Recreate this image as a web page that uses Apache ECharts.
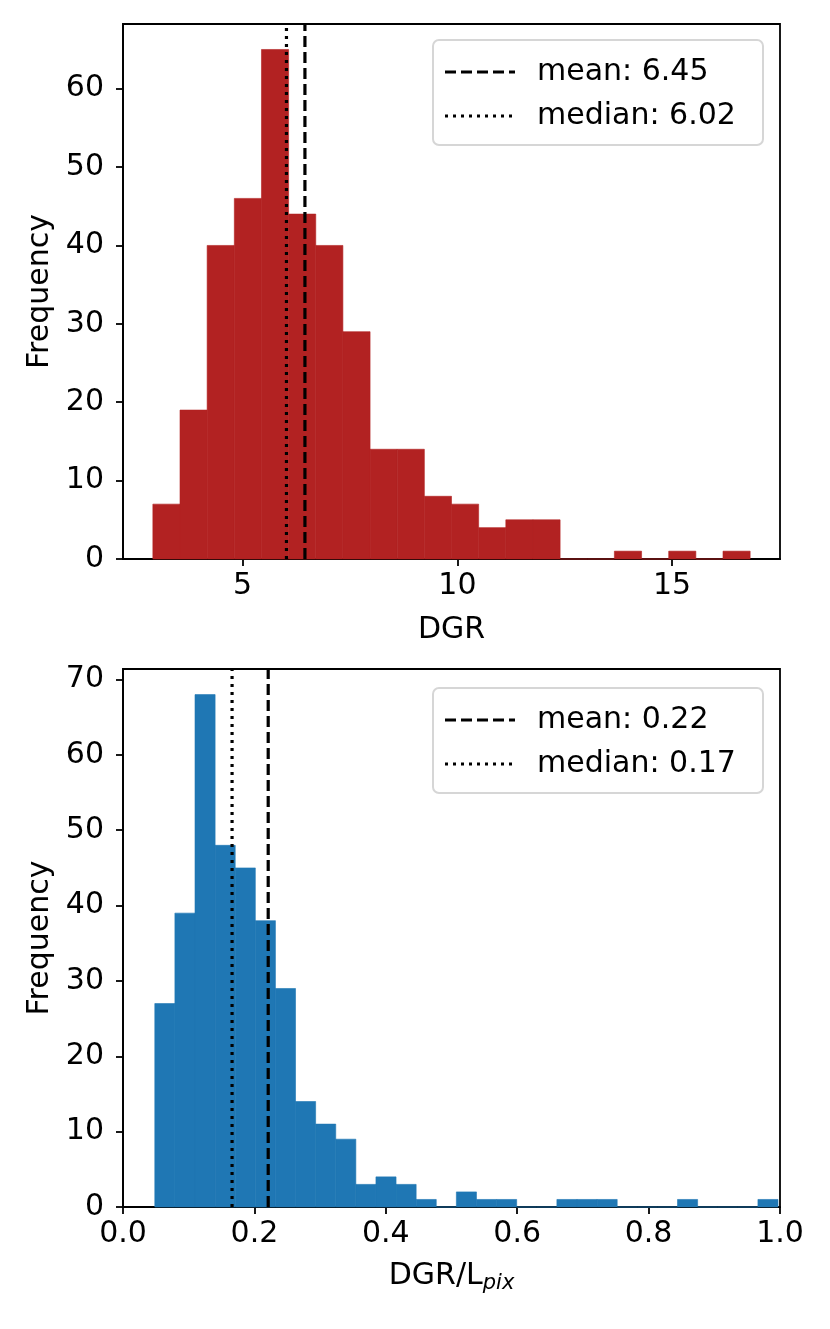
<!DOCTYPE html>
<html>
<head>
    <meta charset="utf-8">
    <title>DGR histograms</title>
    <script src="https://cdn.jsdelivr.net/npm/echarts@6/dist/echarts.min.js"></script>
    <style>
        html, body { margin: 0; padding: 0; background: #ffffff; }
        #chart { width: 830px; height: 1329px; }
    </style>
</head>
<body>
<div id="chart"></div>
<script>
// top panel: DGR histogram (bin edges + counts)
var dgrEdges = [2.909, 3.541, 4.173, 4.806, 5.438, 6.070, 6.702, 7.334, 7.967, 8.599,
    9.231, 9.863, 10.495, 11.128, 11.760, 12.392, 13.024, 13.656, 14.289, 14.921,
    15.553, 16.185, 16.817];
var dgrCounts = [7, 19, 40, 46, 65, 44, 40, 29, 14, 14, 8, 7, 4, 5, 5, 0, 0, 1, 0, 1, 0, 1];
var dgrMean = 6.45;
var dgrMedian = 6.02;
var dgrTicks = [5, 10, 15];

// bottom panel: DGR / L_pix histogram
var ratioEdges = [0.0484, 0.0790, 0.1096, 0.1402, 0.1708, 0.2014, 0.2320, 0.2626, 0.2932,
    0.3238, 0.3544, 0.3850, 0.4156, 0.4462, 0.4768, 0.5074, 0.5380, 0.5686, 0.5992,
    0.6298, 0.6604, 0.6910, 0.7216, 0.7522, 0.7828, 0.8134, 0.8440, 0.8746, 0.9052,
    0.9358, 0.9664, 0.9970];
var ratioCounts = [27, 39, 68, 48, 45, 38, 29, 14, 11, 9, 3, 4, 3, 1, 0, 2, 1, 1, 0, 0,
    1, 1, 1, 0, 0, 0, 1, 0, 0, 0, 1];
var ratioMean = 0.221;
var ratioMedian = 0.166;
var ratioTicks = [0, 0.2, 0.4, 0.6, 0.8, 1.0];

var freqTicks = [0, 10, 20, 30, 40, 50, 60, 70];

var FONT = 'DejaVu Sans';
var FS = 30;

function binsOf(edges, counts) {
    var out = [];
    for (var i = 0; i < counts.length; i++) {
        out.push([edges[i], edges[i + 1], counts[i]]);
    }
    return out;
}

function renderBin(params, api) {
    var p0 = api.coord([api.value(0), 0]);
    var p1 = api.coord([api.value(1), api.value(2)]);
    var st = api.style();
    st.stroke = st.fill;
    st.lineWidth = 0.6;
    return {
        type: 'rect',
        shape: { x: p0[0], y: p1[1], width: p1[0] - p0[0], height: p0[1] - p1[1] },
        style: st
    };
}

function xAxisOf(idx, min, max, ticks, name, fmt, gap) {
    return {
        type: 'value', gridIndex: idx, min: min, max: max,
        name: name, nameLocation: 'middle', nameGap: gap,
        nameTextStyle: {
            color: '#000', fontFamily: FONT, fontSize: FS,
            rich: {
                a: { fontFamily: FONT, fontSize: FS, color: '#000' },
                sub: { fontFamily: FONT, fontSize: 21, fontStyle: 'italic', color: '#000', padding: [14, 0, 0, 0] }
            }
        },
        splitLine: { show: false },
        axisLine: { show: true, onZero: false, lineStyle: { color: '#000', width: 1.8 } },
        axisTick: { show: true, length: 7, lineStyle: { color: '#000', width: 1.8 }, customValues: ticks },
        axisLabel: { color: '#000', fontFamily: FONT, fontSize: FS, margin: 12, customValues: ticks, formatter: fmt }
    };
}

function yAxisOf(idx, max) {
    var ticks = freqTicks.filter(function (t) { return t <= max; });
    return {
        type: 'value', gridIndex: idx, min: 0, max: max,
        name: 'Frequency', nameLocation: 'middle', nameGap: 68, nameRotate: 90,
        nameTextStyle: { color: '#000', fontFamily: FONT, fontSize: FS },
        splitLine: { show: false },
        axisLine: { show: true, lineStyle: { color: '#000', width: 1.8 } },
        axisTick: { show: true, length: 7, lineStyle: { color: '#000', width: 1.8 }, customValues: ticks },
        axisLabel: { color: '#000', fontFamily: FONT, fontSize: FS, margin: 19, customValues: ticks }
    };
}

function vline(idx, x, ymax, dash) {
    return {
        type: 'line', xAxisIndex: idx, yAxisIndex: idx,
        data: [[x, 0], [x, ymax]],
        symbol: 'none', silent: true, z: 5,
        lineStyle: { color: '#000', width: 3.2, type: dash }
    };
}

function legendBox(top, meanText, medianText) {
    var left = 433, w = 330, h = 105;
    return {
        type: 'group',
        children: [
            { type: 'rect', shape: { x: left, y: top, width: w, height: h, r: 6 },
              style: { fill: 'rgba(255,255,255,0.8)', stroke: '#d6d6d6', lineWidth: 2 }, z: 10 },
            { type: 'line', shape: { x1: left + 12, y1: top + 32, x2: left + 82, y2: top + 32 },
              style: { stroke: '#000', lineWidth: 3.2, lineDash: [11, 5] }, z: 11 },
            { type: 'line', shape: { x1: left + 12, y1: top + 76, x2: left + 82, y2: top + 76 },
              style: { stroke: '#000', lineWidth: 3.2, lineDash: [3, 5] }, z: 11 },
            { type: 'text', x: left + 104, y: top + 32,
              style: { text: meanText, fill: '#000', font: FS + 'px "DejaVu Sans"', verticalAlign: 'middle' }, z: 11 },
            { type: 'text', x: left + 104, y: top + 76,
              style: { text: medianText, fill: '#000', font: FS + 'px "DejaVu Sans"', verticalAlign: 'middle' }, z: 11 }
        ]
    };
}

var topMax = Math.max.apply(null, dgrCounts) * 1.05;
var botMax = Math.max.apply(null, ratioCounts) * 1.05;
var dgrPad = (dgrEdges[dgrEdges.length - 1] - dgrEdges[0]) * 0.05;

var chart = echarts.init(document.getElementById('chart'), null, { renderer: 'canvas' });
var option = {
    backgroundColor: '#ffffff',
    animation: false,
    grid: [
        { left: 123, top: 24, width: 657, height: 535, show: true, borderColor: '#000', borderWidth: 1.8, backgroundColor: 'transparent' },
        { left: 123, top: 669, width: 657, height: 538, show: true, borderColor: '#000', borderWidth: 1.8, backgroundColor: 'transparent' }
    ],
    xAxis: [
        xAxisOf(0, dgrEdges[0] - dgrPad, dgrEdges[dgrEdges.length - 1] + dgrPad, dgrTicks, 'DGR',
            function (v) { return String(v); }, 56),
        xAxisOf(1, 0, 1, ratioTicks, '{a|DGR/L}{sub|pix}',
            function (v) { return v.toFixed(1); }, 52)
    ],
    yAxis: [yAxisOf(0, topMax), yAxisOf(1, botMax)],
    series: [
        {
            type: 'custom', xAxisIndex: 0, yAxisIndex: 0,
            renderItem: renderBin, encode: { x: [0, 1], y: 2 },
            itemStyle: { color: '#b22222' },
            data: binsOf(dgrEdges, dgrCounts)
        },
        {
            type: 'custom', xAxisIndex: 1, yAxisIndex: 1,
            renderItem: renderBin, encode: { x: [0, 1], y: 2 },
            itemStyle: { color: '#1f77b4' },
            data: binsOf(ratioEdges, ratioCounts)
        },
        vline(0, dgrMean, topMax, [11, 5]),
        vline(0, dgrMedian, topMax, [3, 5]),
        vline(1, ratioMean, botMax, [11, 5]),
        vline(1, ratioMedian, botMax, [3, 5])
    ],
    graphic: [
        legendBox(40, 'mean: ' + dgrMean.toFixed(2), 'median: ' + dgrMedian.toFixed(2)),
        legendBox(688, 'mean: ' + ratioMean.toFixed(2), 'median: ' + ratioMedian.toFixed(2))
    ]
};
chart.setOption(option);

window.onresize = function () {
    chart.resize();
};
</script>
</body>
</html>
